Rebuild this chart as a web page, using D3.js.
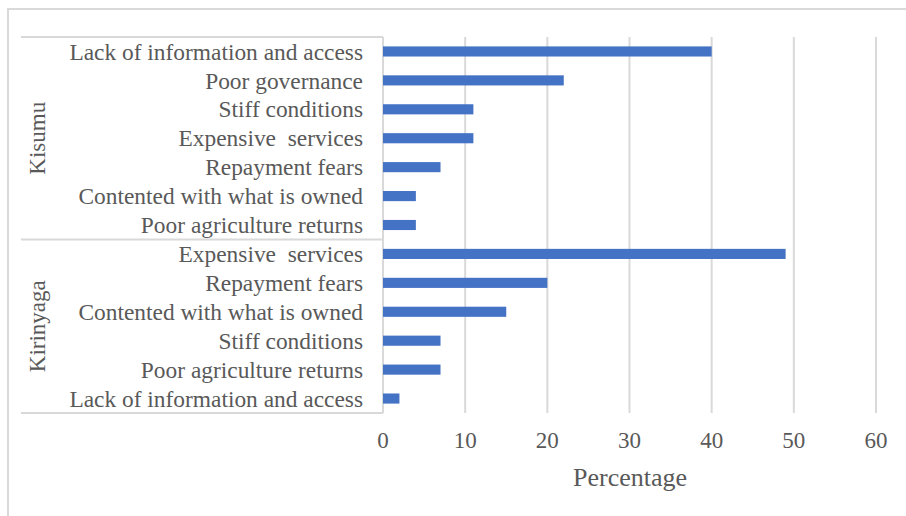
<!DOCTYPE html>
<html>
<head>
<meta charset="utf-8">
<script src="https://cdn.jsdelivr.net/npm/d3@7"></script>
<style>
  html, body { margin: 0; padding: 0; background: #fff; }
  svg { display: block; }
  text { font-family: "Liberation Serif", "Times New Roman", serif; fill: #595959; white-space: pre; }
</style>
</head>
<body>
<svg id="chart" width="906" height="516"></svg>
<script>
// Reasons for not using financial services, by county (percent of respondents)
const kisumuReasons = [
  "Lack of information and access",
  "Poor governance",
  "Stiff conditions",
  "Expensive  services",
  "Repayment fears",
  "Contented with what is owned",
  "Poor agriculture returns"
];
const kisumuValues = [40, 22, 11, 11, 7, 4, 4];

const kirinyagaReasons = [
  "Expensive  services",
  "Repayment fears",
  "Contented with what is owned",
  "Stiff conditions",
  "Poor agriculture returns",
  "Lack of information and access"
];
const kirinyagaValues = [49, 20, 15, 7, 7, 2];

const counties = ["Kisumu", "Kirinyaga"];
const xTicks = [0, 10, 20, 30, 40, 50, 60];
const xTitle = "Percentage";

// Flatten into rows, keyed by county + reason
const rows = [
  ...kisumuReasons.map((r, i) => ({ county: "Kisumu", reason: r, value: kisumuValues[i] })),
  ...kirinyagaReasons.map((r, i) => ({ county: "Kirinyaga", reason: r, value: kirinyagaValues[i] }))
];
rows.forEach((d, i) => d.key = d.county + "|" + i);

const svg = d3.select("#chart");
const W = 906, H = 516;

const plot = { left: 383, right: 876, top: 37, bottom: 413 };
const boxLeft = 21;
const gray = "#d9d9d9";

const x = d3.scaleLinear().domain([0, 60]).range([plot.left, plot.right]);
const y = d3.scaleBand().domain(rows.map(d => d.key)).range([plot.top, plot.bottom]).padding(0);
const barH = y.bandwidth() * 0.35;

// Outer frame
svg.append("rect")
  .attr("x", 8).attr("y", 9)
  .attr("width", W).attr("height", H)
  .attr("fill", "none").attr("stroke", gray).attr("stroke-width", 2);

// Vertical gridlines
svg.append("g")
  .selectAll("line")
  .data(xTicks.filter(t => t > 0))
  .join("line")
  .attr("x1", d => x(d)).attr("x2", d => x(d))
  .attr("y1", plot.top).attr("y2", plot.bottom)
  .attr("stroke", gray).attr("stroke-width", 2);

// Category axis box and group separators
const groupBounds = counties.map(c => {
  const keys = rows.filter(r => r.county === c).map(r => r.key);
  return { county: c, y0: y(keys[0]), y1: y(keys[keys.length - 1]) + y.bandwidth() };
});
const axisG = svg.append("g").attr("stroke", gray).attr("stroke-width", 2).attr("fill", "none");
axisG.append("line").attr("x1", plot.left).attr("x2", plot.left).attr("y1", plot.top).attr("y2", plot.bottom);
const seps = [plot.top, ...groupBounds.map(g => g.y1)];
axisG.selectAll("line.sep").data(seps).join("line").attr("class", "sep")
  .attr("x1", boxLeft).attr("x2", plot.left)
  .attr("y1", d => d).attr("y2", d => d);

// Bars
svg.append("g")
  .selectAll("rect")
  .data(rows)
  .join("rect")
  .attr("x", x(0))
  .attr("y", d => y(d.key) + (y.bandwidth() - barH) / 2)
  .attr("width", d => x(d.value) - x(0))
  .attr("height", barH)
  .attr("fill", "#4472c4");

// Reason labels
svg.append("g")
  .selectAll("text")
  .data(rows)
  .join("text")
  .attr("x", 363)
  .attr("y", d => y(d.key) + y.bandwidth() / 2)
  .attr("dy", "0.35em")
  .attr("text-anchor", "end")
  .style("font-size", "23.4px")
  .text(d => d.reason);

// County labels (rotated)
svg.append("g")
  .selectAll("text")
  .data(groupBounds)
  .join("text")
  .attr("transform", d => `translate(37,${(d.y0 + d.y1) / 2}) rotate(-90)`)
  .attr("dy", "0.35em")
  .attr("text-anchor", "middle")
  .style("font-size", "23px")
  .text(d => d.county);

// Value axis tick labels
svg.append("g")
  .selectAll("text")
  .data(xTicks)
  .join("text")
  .attr("x", d => x(d))
  .attr("y", 440)
  .attr("dy", "0.35em")
  .attr("text-anchor", "middle")
  .style("font-size", "23px")
  .text(d => d);

// Axis title
svg.append("text")
  .attr("x", 630)
  .attr("y", 477)
  .attr("dy", "0.35em")
  .attr("text-anchor", "middle")
  .style("font-size", "26px")
  .text(xTitle);
</script>
</body>
</html>
